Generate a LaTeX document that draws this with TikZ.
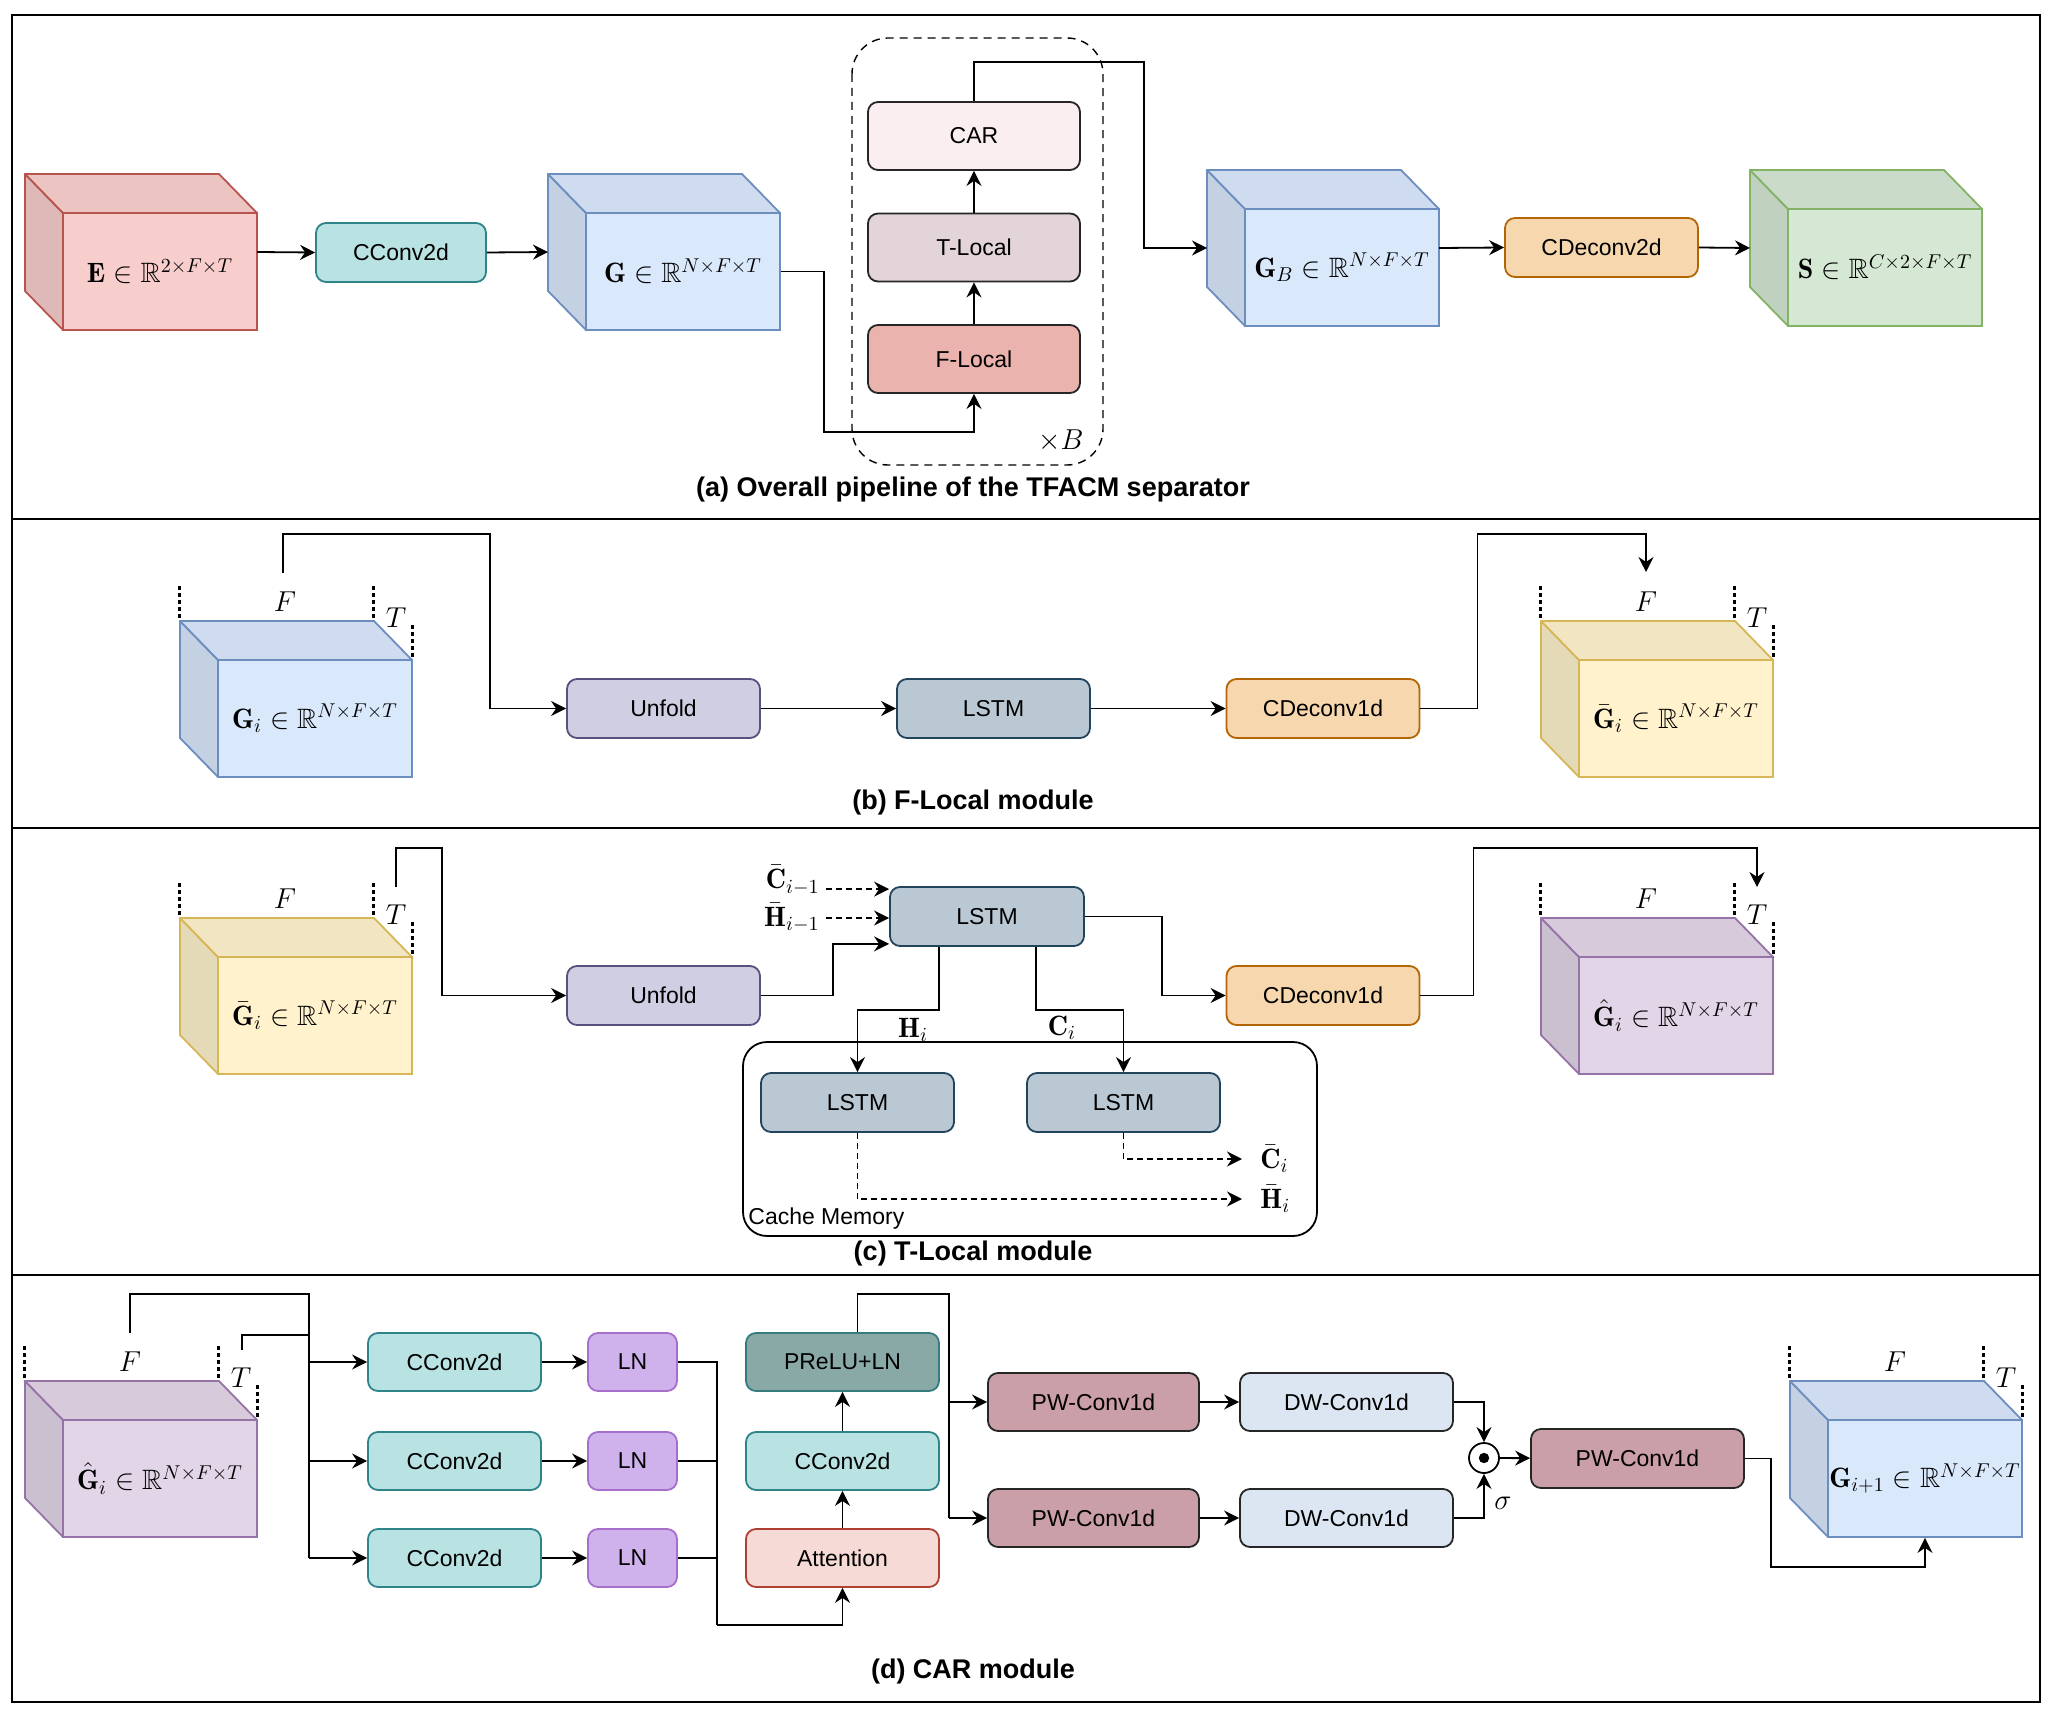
\documentclass[tikz,border=0pt]{standalone}
\usepackage{amsmath,amssymb}
\usepackage{fontspec}
\setsansfont{Liberation Sans}
\usepackage{tikz}
\usetikzlibrary{positioning,arrows.meta}

\definecolor{redfill}{HTML}{F8CECC}\definecolor{redline}{HTML}{B85450}
\definecolor{bluefill}{HTML}{DAE8FC}\definecolor{blueline}{HTML}{6C8EBF}
\definecolor{greenfill}{HTML}{D5E8D4}\definecolor{greenline}{HTML}{82B366}
\definecolor{yellowfill}{HTML}{FFF2CC}\definecolor{yellowline}{HTML}{D6B656}
\definecolor{purplefill}{HTML}{E1D5E7}\definecolor{purpleline}{HTML}{9673A6}
\definecolor{tealfill}{HTML}{B9E2E3}\definecolor{tealline}{HTML}{2E8488}
\definecolor{orangefill}{HTML}{F6D7AE}\definecolor{orangeline}{HTML}{B46504}
\definecolor{unffill}{HTML}{D0CEE2}\definecolor{unfline}{HTML}{56517E}
\definecolor{lstmfill}{HTML}{BAC8D3}\definecolor{lstmline}{HTML}{23445D}
\definecolor{lnfill}{HTML}{CFB2EC}\definecolor{lnline}{HTML}{A66FCC}
\definecolor{prlfill}{HTML}{88A9A6}\definecolor{prlline}{HTML}{367C7E}
\definecolor{attfill}{HTML}{F6DAD6}\definecolor{attline}{HTML}{AE4132}
\definecolor{pwfill}{HTML}{CA9FA8}\definecolor{dwfill}{HTML}{DCE6F2}
\definecolor{carfill}{HTML}{FBEEF1}\definecolor{tlfill}{HTML}{E2D4D9}
\definecolor{flfill}{HTML}{EBB3AD}\definecolor{darkline}{HTML}{262626}

\tikzstyle{arr}=[-{Stealth[length=7.5pt,width=7.5pt,inset=2.5pt]}, line width=0.9pt]
\tikzstyle{dasharr}=[arr, dash pattern=on 3pt off 2pt]
\tikzstyle{dotln}=[line width=1.5pt, dash pattern=on 2pt off 1.5pt]
\tikzstyle{frameln}=[line width=1.1pt]
\tikzstyle{blk}=[draw, rounded corners=5pt, minimum height=29.5pt, inner sep=0pt,
  line width=0.9pt, font=\sffamily\fontsize{11.5}{13}\selectfont]
\tikzstyle{cubeln}=[line width=0.9pt, line join=round]
\tikzstyle{cubeface}=[line width=0.9pt, minimum width=97pt, minimum height=58.5pt,
  inner sep=0pt, font=\fontsize{14}{16}\selectfont]
\tikzstyle{lbl}=[font=\fontsize{14}{16}\selectfont, inner sep=1pt]
\tikzstyle{captext}=[font=\sffamily\bfseries\fontsize{13.5}{15}\selectfont]
\tikzstyle{cconvbox}=[blk, fill=tealfill, draw=tealline]
\tikzstyle{orangebox}=[blk, fill=orangefill, draw=orangeline]
\tikzstyle{unfbox}=[blk, fill=unffill, draw=unfline, minimum width=96.5pt]
\tikzstyle{lstmbox}=[blk, fill=lstmfill, draw=lstmline, minimum width=96.5pt]
\tikzstyle{lnbox}=[blk, fill=lnfill, draw=lnline, minimum width=44.5pt, minimum height=29pt]

% cube: name, x and y of front face top-left, fill, line, label
\newcommand{\tfcube}[6]{%
  \filldraw[cubeln, draw=#5, fill=#4!90!black] (#2,#3) -- ++(-38,-39) -- ++(0,117) -- ++(38,39) -- cycle;
  \filldraw[cubeln, draw=#5, fill=#4!95!black] (#2,#3) -- ++(-38,-39) -- ++(194,0) -- ++(38,39) -- cycle;
  \node[cubeface, draw=#5, fill=#4] (#1) at (#2+97,#3+58.5) {#6};
  \coordinate (#1-l) at (#2-38,#3+39);
  \coordinate (#1-r) at (#2+194,#3+39);
}
% dotted size marks F and T above a cube
\newcommand{\tfdims}[2]{%
  \draw[dotln] (#1-39,#2-74) -- (#1-39,#2-39);
  \draw[dotln] (#1+155,#2-74) -- (#1+155,#2-39);
  \draw[dotln] (#1+194,#2-35) -- (#1+194,#2);
  \node[lbl] at (#1+67,#2-58) {$F$};
  \node[lbl] at (#1+178,#2-42) {$T$};
}

\begin{document}
\begin{tikzpicture}[x=0.5pt,y=-0.5pt]
  \useasboundingbox (0,0) rectangle (2052,1712);

  % frame and panel separators
  \draw[frameln] (12,15) rectangle (2040,1702);
  \draw[frameln] (12,519) -- (2040,519);
  \draw[frameln] (12,828) -- (2040,828);
  \draw[frameln] (12,1275) -- (2040,1275);

  %% (a) overall pipeline
  \tfcube{E}{63}{213}{redfill}{redline}{$\mathbf{E}\in\mathbb{R}^{2\times F\times T}$}
  \node[cconvbox, minimum width=85pt] (cca) at (401,252.5) {CConv2d};
  \tfcube{G}{586}{213}{bluefill}{blueline}{$\mathbf{G}\in\mathbb{R}^{N\times F\times T}$}

  % repeated block
  \draw[line width=0.7pt, dash pattern=on 4pt off 3pt, rounded corners=18pt] (852,38) rectangle (1103,465);
  \node[blk, fill=carfill, draw=darkline, minimum width=106pt, minimum height=34pt] (car) at (974,136) {CAR};
  \node[blk, fill=tlfill, draw=darkline, minimum width=106pt, minimum height=34pt] (tl) at (974,247.5) {T-Local};
  \node[blk, fill=flfill, draw=darkline, minimum width=106pt, minimum height=34pt] (fl) at (974,359) {F-Local};
  \node[lbl, anchor=east] (xb) at (1086,441) {$\times B$};

  \tfcube{GB}{1245}{209}{bluefill}{blueline}{$\mathbf{G}_B\in\mathbb{R}^{N\times F\times T}$}
  \node[orangebox, minimum width=96.5pt] (cdc) at (1601.5,247.5) {CDeconv2d};
  \tfcube{S}{1788}{209}{greenfill}{greenline}{$\mathbf{S}\in\mathbb{R}^{C\times 2\times F\times T}$}

  \draw[arr] (E-r) -- (cca.west);
  \draw[arr] (cca.east) -- (G-l);
  \draw[arr] (G.east) -- ++(43,0) |- (974,432) -- (fl.south);
  \draw[arr] (fl) -- (tl);
  \draw[arr] (tl) -- (car);
  \draw[arr] (car.north) -- ++(0,-39) -| (1144,248) -- (GB-l);
  \draw[arr] (GB-r) -- (cdc.west);
  \draw[arr] (cdc.east) -- (S-l);

  \node[captext] (capa) at (973,490) {(a) Overall pipeline of the TFACM separator};

  %% (b) F-Local module
  \tfcube{Gib}{218}{660}{bluefill}{blueline}{$\mathbf{G}_i\in\mathbb{R}^{N\times F\times T}$}
  \tfdims{218}{660}
  \coordinate (Gib-in) at (283,573);
  \node[unfbox] (unfb) at (663.5,708.5) {Unfold};
  \node[lstmbox] (lstmb) at (993.5,708.5) {LSTM};
  \node[orangebox, minimum width=96.5pt] (cdcb) at (1323,708.5) {CDeconv1d};
  \tfcube{Gbb}{1579}{660}{yellowfill}{yellowline}{$\bar{\mathbf{G}}_i\in\mathbb{R}^{N\times F\times T}$}
  \tfdims{1579}{660}
  \coordinate (Gbb-in) at (1646,572);

  \draw[arr] (Gib-in) -- ++(0,-39) -- ++(207,0) |- (unfb.west);
  \draw[arr] (unfb) -- (lstmb);
  \draw[arr] (lstmb) -- (cdcb);
  \draw[arr] (cdcb.east) -- ++(57,0) -- ++(0,-174.5) -| (Gbb-in);

  \node[captext] (capb) at (973,803) {(b) F-Local module};

  %% (c) T-Local module
  \tfcube{Gbc}{218}{957}{yellowfill}{yellowline}{$\bar{\mathbf{G}}_i\in\mathbb{R}^{N\times F\times T}$}
  \tfdims{218}{957}
  \coordinate (Gbc-in) at (396,887);
  \node[unfbox] (unfc) at (663.5,995.5) {Unfold};
  \node[lstmbox, minimum width=97pt] (lstmc) at (987,916.5) {LSTM};
  \node[orangebox, minimum width=96.5pt] (cdcc) at (1323,995.5) {CDeconv1d};
  \tfcube{Ghc}{1579}{957}{purplefill}{purpleline}{$\hat{\mathbf{G}}_i\in\mathbb{R}^{N\times F\times T}$}
  \tfdims{1579}{957}
  \coordinate (Ghc-in) at (1757,887);

  % cached states
  \node[lbl, anchor=east] (cprev) at (822,880) {$\bar{\mathbf{C}}_{i-1}$};
  \node[lbl, anchor=east] (hprev) at (822,918) {$\bar{\mathbf{H}}_{i-1}$};
  \coordinate (lin1) at ([yshift=-1.5pt]lstmc.north west);
  \coordinate (lin3) at ([yshift=1.5pt]lstmc.south west);
  \draw[dasharr] ([xshift=2pt]cprev.east |- lin1) -- (lin1);
  \draw[dasharr] ([xshift=2pt]hprev.east) -- (hprev.east -| lstmc.west);
  \draw[arr] (Gbc-in) -- ++(0,-39) -- ++(46,0) |- (unfc.west);
  \draw[arr] (unfc.east) -- ++(72,0) |- (lin3);
  \draw[arr] (lstmc.east) -- ++(77,0) |- (cdcc.west);
  \draw[arr] (cdcc.east) -- ++(53,0) -- ++(0,-147.5) -| (Ghc-in);

  % cache memory
  \draw[line width=0.9pt, rounded corners=12pt] (743,1042) rectangle (1317,1236);
  \node[font=\sffamily\fontsize{11.5}{13}\selectfont, anchor=base west, inner sep=0pt] (cmtext) at (748,1224) {Cache Memory};
  \node[lstmbox] (lstm1) at (857.5,1102.5) {LSTM};
  \node[lstmbox] (lstm2) at (1123.5,1102.5) {LSTM};
  \draw[arr] ([xshift=-24pt]lstmc.south) -- ++(0,63) -| (lstm1.north);
  \draw[arr] ([xshift=24.5pt]lstmc.south) -- ++(0,63) -| (lstm2.north);
  \node[lbl] (hi) at (913,1030) {$\mathbf{H}_i$};
  \node[lbl] (ci) at (1062,1028) {$\mathbf{C}_i$};
  \node[lbl, anchor=west] (cbar) at (1258,1159) {$\bar{\mathbf{C}}_i$};
  \node[lbl, anchor=west] (hbar) at (1258,1199) {$\bar{\mathbf{H}}_i$};
  \draw[dasharr] (lstm2.south) |- ([xshift=-8pt]cbar.west);
  \draw[dasharr] (lstm1.south) |- ([xshift=-8pt]hbar.west);

  \node[captext] (capc) at (973,1254) {(c) T-Local module};

  %% (d) CAR module
  \tfcube{Ghd}{63}{1420}{purplefill}{purpleline}{$\hat{\mathbf{G}}_i\in\mathbb{R}^{N\times F\times T}$}
  \tfdims{63}{1420}
  \coordinate (Ghd-f) at (130,1333);
  \coordinate (Ghd-t) at (242,1350);
  \coordinate (split) at (309,1558);

  \foreach \i/\y in {1/1362, 2/1461, 3/1558} {
    \node[cconvbox, minimum width=86.5pt, minimum height=29pt] (cc\i) at (454.5,\y) {CConv2d};
    \node[lnbox] (ln\i) at (632.5,\y) {LN};
    \draw[arr] (cc\i.west -| split) -- (cc\i.west);
    \draw[arr] (cc\i) -- (ln\i);
  }
  \draw[line width=0.9pt] (Ghd-f) -- ++(0,-39) -| (split);
  \draw[line width=0.9pt] (Ghd-t) -- ++(0,-15) -- ++(67,0);

  \node[blk, fill=prlfill, draw=prlline, minimum width=96.5pt, minimum height=29pt] (prl) at (842.5,1362) {PReLU+LN};
  \node[cconvbox, minimum width=96.5pt, minimum height=29pt] (cc4) at (842.5,1461) {CConv2d};
  \node[blk, fill=attfill, draw=attline, minimum width=96.5pt, minimum height=29pt] (att) at (842.5,1558) {Attention};
  \coordinate (join) at (717,1625);
  \draw[line width=0.9pt] (ln1.east) -| (join);
  \draw[line width=0.9pt] (ln2.east) -- (ln2.east -| join);
  \draw[line width=0.9pt] (ln3.east) -- (ln3.east -| join);
  \draw[arr] (join) -| (att.south);
  \draw[arr] (att) -- (cc4);
  \draw[arr] (cc4) -- (prl);

  % gated branches
  \coordinate (fork) at (949,1518);
  \foreach \i/\y in {1/1402, 2/1518} {
    \node[blk, fill=pwfill, draw=darkline, minimum width=105.5pt, minimum height=29pt] (pw\i) at (1093.5,\y) {PW-Conv1d};
    \node[blk, fill=dwfill, draw=darkline, minimum width=106.5pt, minimum height=29pt] (dw\i) at (1346.5,\y) {DW-Conv1d};
    \draw[arr] (pw\i.west -| fork) -- (pw\i.west);
    \draw[arr] (pw\i) -- (dw\i);
  }
  \draw[line width=0.9pt] ([xshift=7.5pt]prl.north) -- ++(0,-38) -| (fork);

  \node[circle, draw, line width=0.9pt, minimum size=15pt, inner sep=0pt] (odot) at (1484,1458) {};
  \fill (odot.center) circle (2.6pt);
  \node[lbl] (sig) at (1503,1503) {$\sigma$};
  \draw[arr] (dw1.east) -| (odot.north);
  \draw[arr] (dw2.east) -| (odot.south);
  \node[blk, fill=pwfill, draw=darkline, minimum width=106.5pt] (pw3) at (1637.5,1458.5) {PW-Conv1d};
  \draw[arr] (odot) -- (pw3);

  \tfcube{Gn}{1828}{1420}{bluefill}{blueline}{$\mathbf{G}_{i+1}\in\mathbb{R}^{N\times F\times T}$}
  \tfdims{1828}{1420}
  \draw[arr] (pw3.east) -- ++(26,0) -- ++(0,108.5) -| (Gn.south);

  \node[captext] (capd) at (973,1672) {(d) CAR module};
\end{tikzpicture}
\end{document}
